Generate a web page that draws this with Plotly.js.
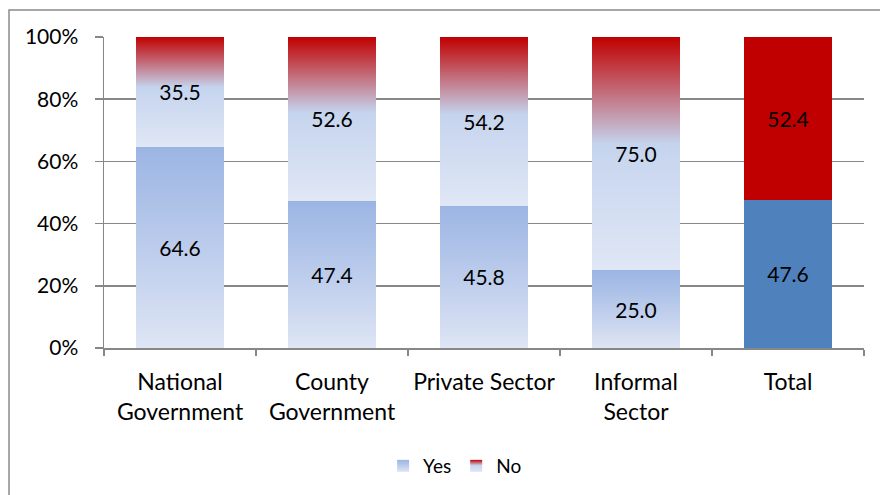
<!DOCTYPE html>
<html>
<head>
<meta charset="utf-8">
<script src="https://cdn.plot.ly/plotly-3.0.1.min.js"></script>
<style>
html,body{margin:0;padding:0;background:#fff;}
#chart{width:880px;height:495px;}
</style>
</head>
<body>
<div id="chart"></div>
<script>
const categories = ["National<br>Government", "County<br>Government", "Private Sector", "Informal<br>Sector", "Total"];
const yesValues = [64.6, 47.4, 45.8, 25.0, 47.6];
const noValues = [35.5, 52.6, 54.2, 75.0, 52.4];
const tickValues = [0, 20, 40, 60, 80, 100];

const FONT = "Lato, 'Liberation Sans', sans-serif";
const gd = document.getElementById('chart');

const traces = [
  {
    type: 'bar', name: 'Yes', x: categories, y: yesValues,
    text: yesValues.map(v => v.toFixed(1)),
    textposition: 'inside', insidetextanchor: 'middle', constraintext: 'none',
    textfont: {family: FONT, size: 21, color: '#000'},
    marker: {color: ['#BACBEB', '#BACBEB', '#BACBEB', '#BACBEB', '#4F81BD']},
    hoverinfo: 'skip'
  },
  {
    type: 'bar', name: 'No', x: categories, y: noValues,
    text: noValues.map(v => v.toFixed(1)),
    textposition: 'inside', insidetextanchor: 'middle', constraintext: 'none',
    textfont: {family: FONT, size: 21, color: '#000'},
    marker: {color: ['#C8909A', '#C8909A', '#C8909A', '#C8909A', '#C00000']},
    hoverinfo: 'skip'
  }
];

const layout = {
  width: 880, height: 495,
  margin: {l: 104, r: 16, t: 37, b: 146},
  paper_bgcolor: '#fff', plot_bgcolor: '#fff',
  barmode: 'stack', bargap: 0.415,
  font: {family: FONT, size: 20, color: '#000'},
  showlegend: true,
  legend: {
    orientation: 'h', x: 0.462, xanchor: 'center', y: -0.375, yanchor: 'middle',
    font: {family: FONT, size: 19, color: '#000'}, itemwidth: 30, traceorder: 'normal'
  },
  xaxis: {
    type: 'category', showgrid: false, showline: true, linecolor: '#878787', linewidth: 1.5,
    ticks: 'outside', tickson: 'boundaries', ticklen: 6, tickcolor: '#878787', tickwidth: 1.5,
    ticklabelstandoff: 13, tickfont: {family: FONT, size: 23, color: '#000'}, fixedrange: true
  },
  yaxis: {
    range: [0, 100], tickvals: tickValues, ticktext: tickValues.map(v => v + '%'),
    showgrid: true, gridcolor: '#878787', gridwidth: 1.5, zeroline: false,
    showline: true, linecolor: '#878787', linewidth: 1.5,
    ticks: 'outside', ticklen: 8, tickcolor: '#878787', tickwidth: 1.5,
    ticklabelstandoff: 12, tickfont: {family: FONT, size: 21, color: '#000'}, fixedrange: true
  },
  shapes: [{
    type: 'rect', xref: 'paper', yref: 'paper',
    x0: -0.125, x1: 1.05, y0: -0.5, y1: 1.0865,
    line: {color: '#8a8a8a', width: 1.5}, fillcolor: 'rgba(0,0,0,0)', layer: 'below'
  }]
};

function ensureDefs() {
  const svg = gd.querySelector('svg.main-svg');
  if (!svg) return;
  if (svg.querySelector('#gradYes')) return;
  const ns = 'http://www.w3.org/2000/svg';
  const defs = document.createElementNS(ns, 'defs');
  function grad(id, stops) {
    const g = document.createElementNS(ns, 'linearGradient');
    g.setAttribute('id', id);
    g.setAttribute('x1', '0'); g.setAttribute('y1', '0');
    g.setAttribute('x2', '0'); g.setAttribute('y2', '1');
    stops.forEach(s => {
      const st = document.createElementNS(ns, 'stop');
      st.setAttribute('offset', s[0]);
      st.setAttribute('stop-color', s[1]);
      g.appendChild(st);
    });
    defs.appendChild(g);
  }
  grad('gradYes', [['0', '#9BB5E3'], ['0.5', '#BCCCEC'], ['1', '#DEE5F4']]);
  grad('gradNo', [['0', '#C00000'], ['0.46', '#C5D4EE'], ['1', '#E0E7F5']]);
  svg.insertBefore(defs, svg.firstChild);
}

function applyGradients() {
  ensureDefs();
  const traceGroups = gd.querySelectorAll('.barlayer .trace.bars');
  const ids = ['gradYes', 'gradNo'];
  traceGroups.forEach((tg, ti) => {
    const paths = tg.querySelectorAll('.point path');
    paths.forEach((p, pi) => {
      if (pi < categories.length - 1) p.style.fill = 'url(#' + ids[ti] + ')';
    });
  });
  const legendPts = gd.querySelectorAll('.legend .traces .legendpoints path');
  legendPts.forEach((p, i) => {
    if (i < ids.length) p.style.fill = 'url(#' + ids[i] + ')';
  });
}

Plotly.newPlot(gd, traces, layout, {staticPlot: true, displayModeBar: false}).then(() => {
  applyGradients();
  gd.on('plotly_afterplot', applyGradients);
});
</script>
</body>
</html>
